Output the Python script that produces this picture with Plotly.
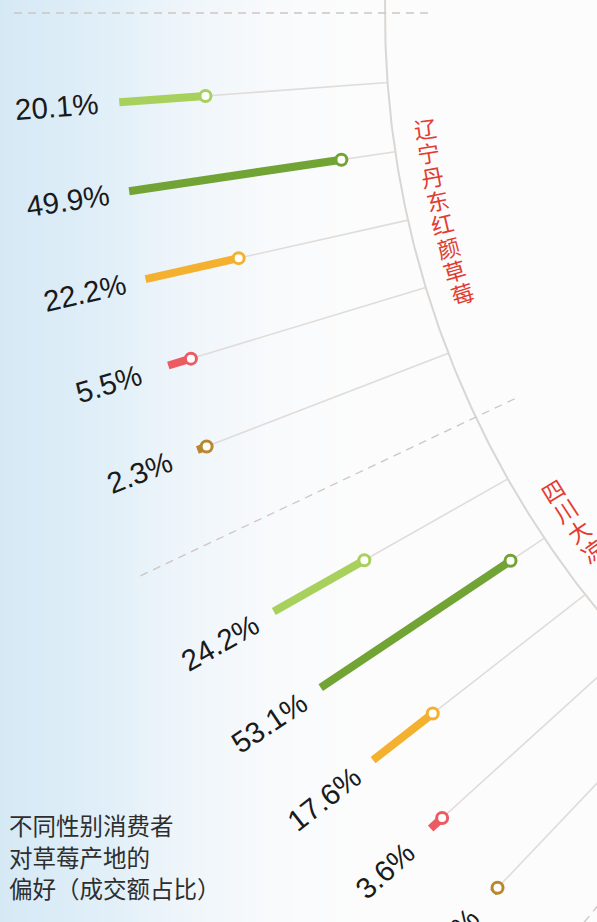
import numpy as np
import plotly.graph_objects as go

# ---------------- data ----------------
origins = ["辽宁丹东红颜草莓", "四川大凉山草莓"]
liaoning_share = [20.1, 49.9, 22.2, 5.5, 2.3]
sichuan_share = [24.2, 53.1, 17.6, 3.6, 1.5]
title_lines = ["不同性别消费者", "对草莓产地的", "偏好（成交额占比）"]

# ---------------- styles / geometry ----------------
series_colors = ["#a8d05c", "#72a335", "#f3b12f", "#ec5a62", "#b8872f"]
W, H = 597, 922
CX, CY = 1330.0, 13.0          # centre of the radial layout (off screen)
R_ARC = 945                     # radius of the grey arc
R_BASE = 1214                   # radius where bars start
PX_PER_PCT = 4.3                # bar length per percentage point
R_LABEL = 1276                  # radius of value labels
R_CAT = 912                     # radius of origin labels
STEP = 4.22                     # angular step between spokes (deg)
CAT_START = [7.24, 31.5]
CAT_STEP = 1.52
R_DASH = (902, 1318)


def polar(r, deg):
    a = np.radians(deg)
    return CX - r * np.cos(a), CY + r * np.sin(a)


def to_paper(x, y):
    return x / W, 1 - y / H


fig = go.Figure()

# background gradient
gx = np.arange(0, W + 1, 3)
fig.add_trace(go.Heatmap(
    x=gx, y=[0, H], z=[gx, gx], zsmooth="best", showscale=False, hoverinfo="skip",
    colorscale=[[0, "rgb(213,233,245)"], [0.18, "rgb(225,239,248)"], [0.3, "rgb(238,245,250)"],
                [0.45, "rgb(248,250,252)"], [0.6, "rgb(252,252,252)"], [1, "rgb(252,252,252)"]],
))

# arc
arc_deg = np.linspace(-3, 62, 300)
ax_, ay_ = polar(R_ARC, arc_deg)
fig.add_trace(go.Scatter(x=ax_, y=ay_, mode="lines", line=dict(color="#dad6d3", width=2),
                         hoverinfo="skip", showlegend=False))

groups = [liaoning_share, sichuan_share]

# dashed separators
for k in range(3):
    ang = STEP * 6 * k
    x0, y0 = polar(R_DASH[0], ang)
    x1, y1 = polar(R_DASH[1], ang)
    fig.add_trace(go.Scatter(x=[x0, x1], y=[y0, y1], mode="lines",
                             line=dict(color="#cdc6c4", width=1.3, dash="8px,6px"),
                             hoverinfo="skip", showlegend=False))

# grey spokes
sx, sy = [], []
for g, vals in enumerate(groups):
    for i, v in enumerate(vals):
        ang = STEP * (6 * g + i + 1)
        x0, y0 = polar(R_BASE, ang)
        x1, y1 = polar(R_ARC, ang)
        sx += [x0, x1, None]
        sy += [y0, y1, None]
fig.add_trace(go.Scatter(x=sx, y=sy, mode="lines", line=dict(color="#e0dcd9", width=1.6),
                         hoverinfo="skip", showlegend=False))

annotations = []
# bars, markers, value labels
for g, vals in enumerate(groups):
    for i, v in enumerate(vals):
        ang = STEP * (6 * g + i + 1)
        c = series_colors[i]
        r_end = R_BASE - v * PX_PER_PCT
        x0, y0 = polar(R_BASE, ang)
        x1, y1 = polar(r_end, ang)
        fig.add_trace(go.Scatter(x=[x0, x1], y=[y0, y1], mode="lines",
                                 line=dict(color=c, width=8),
                                 hoverinfo="skip", showlegend=False))
        fig.add_trace(go.Scatter(x=[x1], y=[y1], mode="markers",
                                 marker=dict(symbol="circle", size=11, color="white",
                                             line=dict(color=c, width=3)),
                                 hoverinfo="skip", showlegend=False))
        lx, ly = to_paper(*polar(R_LABEL, ang))
        annotations.append(dict(
            x=lx, y=ly, xref="paper", yref="paper", text=f"{v}%", showarrow=False,
            textangle=-ang, xanchor="center", yanchor="middle",
            font=dict(family="Liberation Sans, Arial, sans-serif", size=29.5, color="#1a1a1a")))

# origin labels along the arc
for g, name in enumerate(origins):
    for j, ch in enumerate(name):
        ang = CAT_START[g] + j * CAT_STEP
        px, py = to_paper(*polar(R_CAT, ang))
        annotations.append(dict(
            x=px, y=py, xref="paper", yref="paper", text=ch, showarrow=False,
            textangle=-ang, xanchor="center", yanchor="middle",
            font=dict(family="Noto Sans CJK SC", size=22.5, color="#e23b30")))

# title
for k, line in enumerate(title_lines):
    tx, ty = to_paper(7, 825 + 31.5 * k)
    annotations.append(dict(
        x=tx, y=ty, xref="paper", yref="paper", text=line, showarrow=False,
        xanchor="left", yanchor="middle",
        font=dict(family="Noto Sans CJK SC", size=23.5, color="#2e2e2e")))

fig.update_layout(
    width=W, height=H, margin=dict(l=0, r=0, t=0, b=0),
    paper_bgcolor="#fcfcfc", plot_bgcolor="#fcfcfc",
    xaxis=dict(range=[0, W], visible=False, fixedrange=True),
    yaxis=dict(range=[H, 0], visible=False, fixedrange=True),
    showlegend=False, annotations=annotations,
)

fig.write_html("out.html", config={"displayModeBar": False},
               post_script="document.body.style.margin='0';document.body.style.overflow='hidden';")
